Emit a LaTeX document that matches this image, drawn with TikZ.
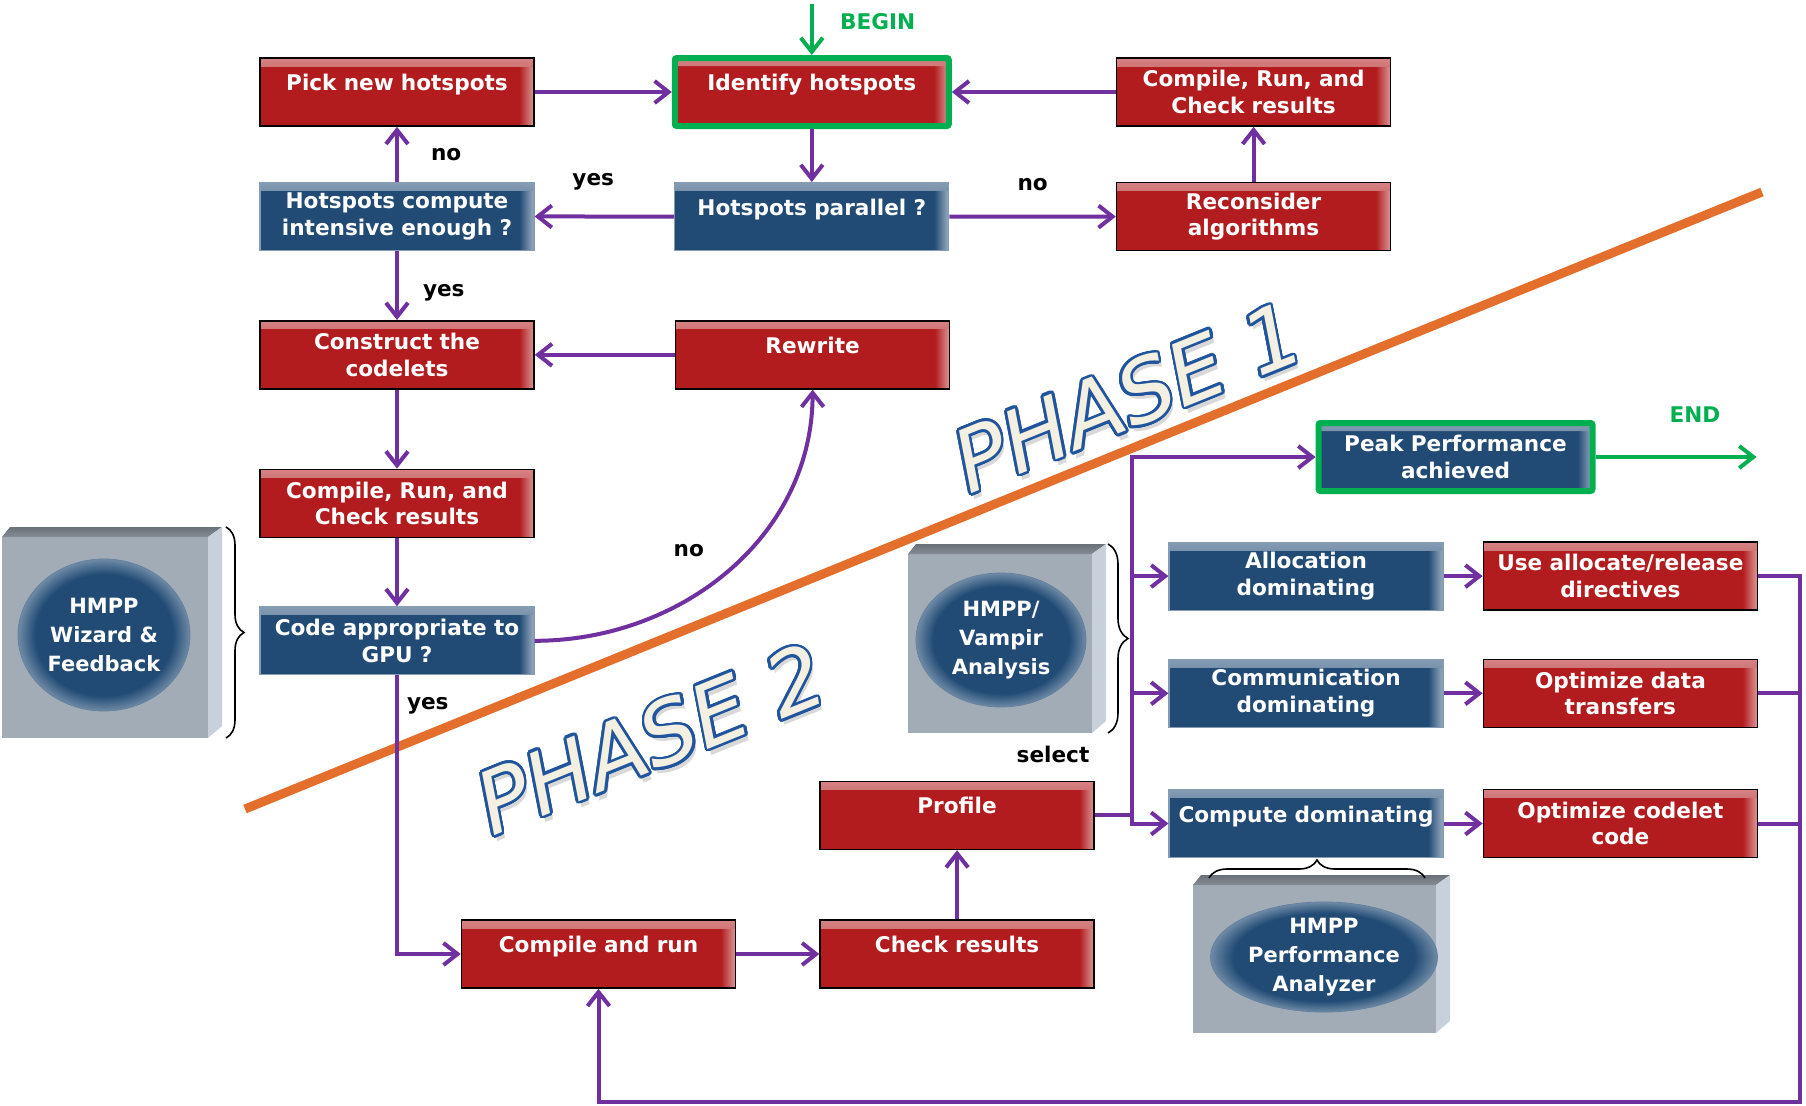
\documentclass[tikz,border=0pt]{standalone}
\usepackage{fontspec}
\setmainfont{DejaVu Sans}
\usepackage[copies]{contour}
\usetikzlibrary{positioning,arrows.meta,shapes.geometric,decorations.pathreplacing}

\definecolor{boxred}{RGB}{178,28,30}
\definecolor{boxblue}{RGB}{33,75,117}
\definecolor{flowpurple}{RGB}{112,48,160}
\definecolor{startgreen}{RGB}{0,176,80}
\definecolor{phaseorange}{RGB}{228,110,44}
\definecolor{phaseblue}{RGB}{32,84,156}
\definecolor{phasecream}{RGB}{243,240,226}
\definecolor{toolgray}{RGB}{162,172,183}
\definecolor{tooltop}{RGB}{134,141,150}
\definecolor{toolside}{RGB}{200,209,219}

\pgfdeclarehorizontalshading{redgloss}{100bp}{color(0bp)=(boxred); color(72.3bp)=(boxred); color(75bp)=(boxred!45!white); color(100bp)=(boxred!45!white)}
\pgfdeclarehorizontalshading{bluegloss}{100bp}{color(0bp)=(boxblue); color(72.3bp)=(boxblue); color(75bp)=(boxblue!45!white); color(100bp)=(boxblue!45!white)}
\pgfdeclareradialshading{toolrim}{\pgfpoint{0bp}{0bp}}{color(0bp)=(boxblue); color(20bp)=(boxblue); color(25bp)=(boxblue!65!white); color(50bp)=(boxblue!65!white)}

\contourlength{1.3pt}
\contournumber{24}

% grey 3d block behind a tool: x1 y1 x2 y2
\newcommand\toolbox[4]{%
  \fill[toolgray] (#1,#2+10) rectangle (#3-14,#4);
  \shade[top color=tooltop!80!black, bottom color=tooltop] (#1,#2+10) -- (#1+8,#2) -- (#3,#2) -- (#3-14,#2+10) -- cycle;
  \fill[toolside] (#3-14,#2+10) -- (#3,#2) -- (#3,#4-12) -- (#3-14,#4) -- cycle;}

\begin{document}
\begin{tikzpicture}
    [x=0.5pt, y=-0.5pt, >={Straight Barb[length=7pt,width=11pt]},
     font=\bfseries\fontsize{10.8}{13.25}\selectfont,
     stepbox/.style={rectangle, minimum width=137pt, minimum height=34pt, text width=133pt, inner sep=2pt, align=center, text=white},
     gloss/.style={path picture={
       \shade[top color=#1!55!white, bottom color=#1] (path picture bounding box.north west) rectangle ([yshift=-4pt]path picture bounding box.north east);}},
     redbox/.style={stepbox, shade, shading=redgloss, draw=black, line width=0.8pt, gloss=boxred},
     bluebox/.style={stepbox, shade, shading=bluegloss, draw=boxblue!55!white, line width=0.6pt, gloss=boxblue},
     startend/.style={draw=startgreen, line width=3pt, rounded corners=1pt},
     oneline/.style={text height=8pt, text depth=9.5pt},
     flow/.style={draw=flowpurple, line width=2pt},
     startline/.style={draw=startgreen, line width=2pt},
     lbl/.style={text=black, inner sep=0pt},
     toolellipse/.style={ellipse, shade, shading=toolrim, draw=boxblue!70!white, line width=0.4pt, inner sep=0pt, align=center, text=white, font=\bfseries\fontsize{10.5}{14.5}\selectfont},
     brc/.style={decorate, decoration={brace, amplitude=#1}, line width=0.8pt},
     phasetext/.style={rotate=22, font=\itshape\fontsize{43}{43}\selectfont, text=phasecream}]
    \useasboundingbox (0,0) rectangle (1806,1105);

    % the two phases
    \draw[phaseorange, line width=4.5pt] (245,809) -- (1762,192);
    \node[phasetext, text=black!30, opacity=.5] at (1131,403) {PHASE 1};
    \node[phasetext] (phase1) at (1128,398) {\contour{phaseblue}{PHASE 1}};
    \node[phasetext, text=black!30, opacity=.5] at (654,745) {PHASE 2};
    \node[phasetext] (phase2) at (651,740) {\contour{phaseblue}{PHASE 2}};

    % tools
    \toolbox{2}{527}{222}{738}
    \node[toolellipse, minimum width=86pt, minimum height=76pt] (wizard) at (104,635) {HMPP\\Wizard \&\\Feedback};
    \draw[brc=9pt] (226,527) -- (226,738);
    \toolbox{908}{544}{1106}{733}
    \node[toolellipse, minimum width=85pt, minimum height=67pt] (vampir) at (1001,640) {HMPP/\\Vampir\\Analysis};
    \draw[brc=10pt] (1108,544) -- (1108,733);
    \toolbox{1193}{875}{1450}{1033}
    \node[toolellipse, minimum width=113.5pt, minimum height=54.5pt] (analyzer) at (1324,957) {HMPP\\Performance\\Analyzer};
    \draw[brc=9pt] (1209,878) -- (1425,878);

    % phase 1
    \node[redbox, oneline] (pick) at (397,92) {Pick new hotspots};
    \node[redbox, oneline, startend] (identify) [right=68.5pt of pick] {Identify hotspots}
      edge [<-, flow] (pick);
    \node[redbox] (crctop) [right=82pt of identify] {Compile, Run, and\\Check results}
      edge [->, flow] (identify);

    \node[bluebox] (intensive) [below=27.5pt of pick] {Hotspots compute\\intensive enough ?}
      edge [->, flow] node [lbl, right=16pt] {no} (pick);
    \node[bluebox, oneline] (parallel) [below=26.5pt of identify] {Hotspots parallel ?}
      edge [<-, flow] (identify)
      edge [->, flow] node [lbl, pos=.58, above=12pt] {yes} (intensive);
    \node[redbox] (reconsider) [below=27.5pt of crctop] {Reconsider\\algorithms}
      edge [<-, flow] node [lbl, above=12pt] {no} (parallel)
      edge [->, flow] (crctop);

    \node[redbox] (construct) [below=34.5pt of intensive] {Construct the\\codelets}
      edge [<-, flow] node [lbl, pos=.4, right=12pt] {yes} (intensive);
    \node[redbox, oneline] (rewrite) [right=70pt of construct] {Rewrite}
      edge [->, flow] (construct);
    \node[redbox] (crcleft) [below=39.5pt of construct] {Compile, Run, and\\Check results}
      edge [<-, flow] (construct);
    \node[bluebox] (gpu) [below=34pt of crcleft] {Code appropriate to\\GPU ?}
      edge [<-, flow] (crcleft);
    \draw[flow, ->] (gpu.east) to [out=0, in=-90] node [lbl, pos=.38, above=20pt] {no} (rewrite.south);

    \coordinate[above=25.5pt of identify] (begin);
    \draw[startline, ->] (begin) -- (identify);
    \node[lbl, text=startgreen, anchor=west] (beginlbl) at ([xshift=14pt, yshift=-9pt]begin) {BEGIN};

    % phase 2
    \node[redbox, oneline] (compilerun) at (598.5,954) {Compile and run};
    \draw[flow, ->] (gpu) |- node [lbl, pos=.055, right=4pt] {yes} (compilerun);
    \node[redbox, oneline] (check) [right=41.5pt of compilerun] {Check results}
      edge [<-, flow] (compilerun);
    \node[redbox, oneline] (profile) [above=34.5pt of check] {Profile}
      edge [<-, flow] (check);

    \node[bluebox, oneline] (compute) at (1306,823.5) {Compute dominating};
    \node[bluebox] (comm) [above=30.5pt of compute] {Communication\\dominating};
    \node[bluebox] (alloc) [above=24pt of comm] {Allocation\\dominating};
    \node[redbox] (codelet) [right=19.5pt of compute] {Optimize codelet\\code}
      edge [<-, flow] (compute);
    \node[redbox] (datatr) [right=19.5pt of comm] {Optimize data\\transfers}
      edge [<-, flow] (comm);
    \node[redbox] (allocdir) [right=19.5pt of alloc] {Use allocate/release\\directives}
      edge [<-, flow] (alloc);
    \node[bluebox, startend] (peak) at (1455.5,457) {Peak Performance\\achieved};

    \coordinate (trunk) at (1132,457);
    \draw[flow, ->] (profile.east) -| (trunk |- compute.west) -- (compute.west);
    \draw[flow, ->] (trunk |- compute.west) |- (peak.west);
    \draw[flow, ->] (trunk |- alloc.west) -- (alloc.west);
    \draw[flow, ->] (trunk |- comm.west) -- (comm.west);
    \node[lbl] (selectlbl) at (1053,754) {select};

    \coordinate (back) at (1800,1102);
    \draw[flow, ->] (allocdir.east) -| (back) -| (compilerun.south);
    \draw[flow] (datatr.east) -- (datatr.east -| back);
    \draw[flow] (codelet.east) -- (codelet.east -| back);

    \coordinate[right=80.5pt of peak] (end);
    \draw[startline, ->] (peak) -- (end);
    \node[lbl, text=startgreen] (endlbl) at (1695,415) {END};
\end{tikzpicture}
\end{document}
